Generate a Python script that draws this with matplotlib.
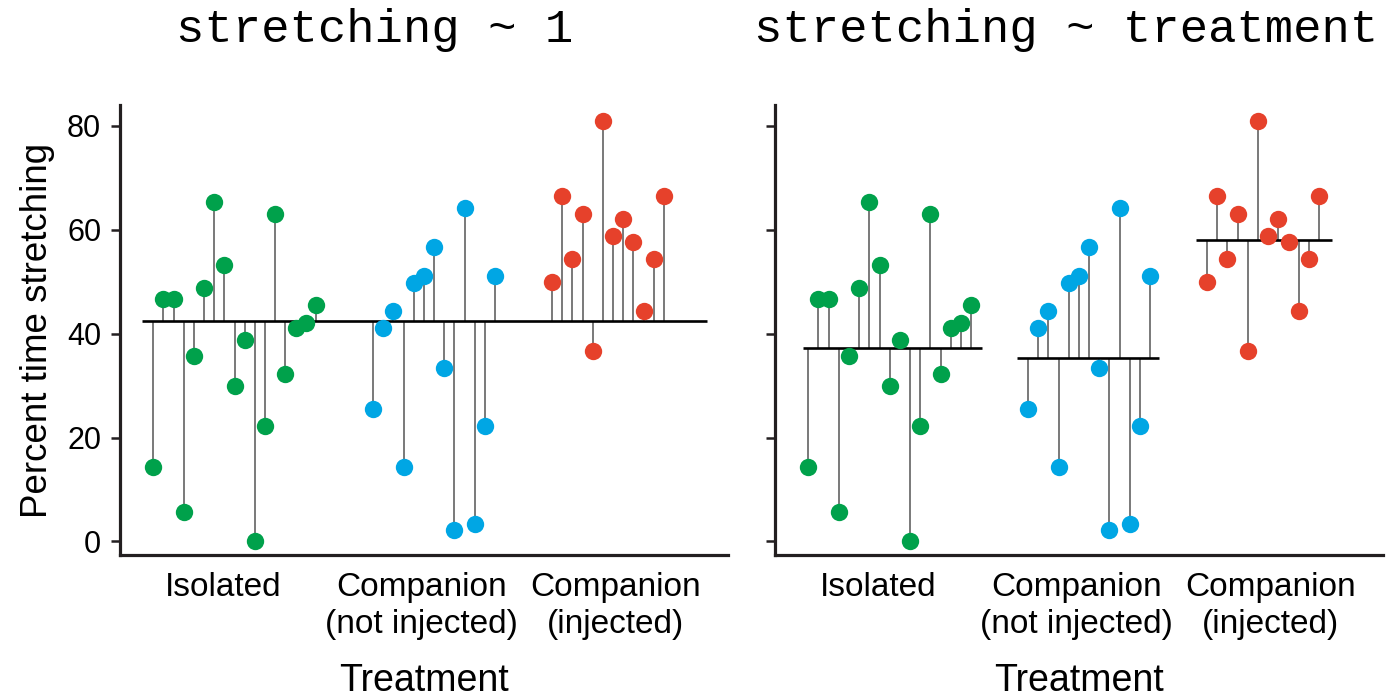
import numpy as np
import matplotlib.pyplot as plt

plt.rcParams['font.family'] = ['Liberation Sans', 'DejaVu Sans']

# percent of time stretching, one value per animal, in recording order
isolated = [14.4, 46.6, 46.6, 5.6, 35.6, 48.8, 65.4, 53.2, 30.0, 38.8,
            0.0, 22.3, 63.1, 32.2, 41.1, 42.1, 45.5]
not_injected = [25.5, 41.1, 44.3, 14.4, 49.8, 51.0, 56.7, 33.4, 2.2,
                64.2, 3.4, 22.3, 51.0]
injected = [49.9, 66.5, 54.3, 63.1, 36.7, 80.9, 58.8, 62.1, 57.7, 44.4,
            54.3, 66.5]

groups = [isolated, not_injected, injected]
group_labels = ['Isolated', 'Companion\n(not injected)', 'Companion\n(injected)']
colors = ['#00a14b', '#00a6e4', '#e6412b']

# horizontal layout: one unit per animal, a gap between treatments
gap = 5.6
starts = [0.0]
for g in groups[:-1]:
    starts.append(starts[-1] + len(g) - 1 + gap)
xs = [s + np.arange(len(g)) for s, g in zip(starts, groups)]
label_pos = [6.9, 26.4, 45.4]
mean_pads = [(0.5, 1.1), (1.1, 0.9), (1.1, 1.3)]

all_y = np.concatenate(groups)
grand_mean = all_y.mean()

fig = plt.figure(figsize=(13.87, 6.96), dpi=100)
ax1 = fig.add_axes([0.0865, 0.2026, 0.4384, 0.6466])
ax2 = fig.add_axes([0.5588, 0.2026, 0.4384, 0.6466])

spine_col = '#231f20'
stem_col = '#555555'


def style(ax, show_labels):
    ax.set_xlim(-3.27, 56.5)
    ax.set_ylim(-2.6, 84.0)
    for side in ['top', 'right']:
        ax.spines[side].set_visible(False)
    for side in ['left', 'bottom']:
        ax.spines[side].set_linewidth(2.3)
        ax.spines[side].set_color(spine_col)
    ax.set_yticks([0, 20, 40, 60, 80])
    ax.tick_params(axis='y', length=6.5, width=1.8, color=spine_col,
                   labelsize=22, pad=7, labelleft=show_labels)
    ax.set_xticks(label_pos)
    ax.set_xticklabels(group_labels, fontsize=24, linespacing=1.28)
    ax.tick_params(axis='x', length=0, pad=12)
    ax.set_xlabel('Treatment', fontsize=27, labelpad=16)


# left: everything against the grand mean
x_all = np.concatenate(xs)
ax1.vlines(x_all, grand_mean, all_y, color=stem_col, lw=1.1, zorder=1)
ax1.hlines(grand_mean, x_all.min() - 1.14, x_all.max() + 4.2,
           color='black', lw=1.9, zorder=2)
for x, g, c in zip(xs, groups, colors):
    ax1.plot(x, g, 'o', ms=12.5, color=c, mec='none', zorder=3)
style(ax1, True)
ax1.set_ylabel('Percent time stretching', fontsize=26.5, labelpad=9)

# right: each treatment against its own mean
for x, g, c, (lo, hi) in zip(xs, groups, colors, mean_pads):
    m = np.mean(g)
    ax2.vlines(x, m, g, color=stem_col, lw=1.1, zorder=1)
    ax2.hlines(m, x.min() - lo, x.max() + hi, color='black', lw=1.9, zorder=2)
    ax2.plot(x, g, 'o', ms=12.5, color=c, mec='none', zorder=3)
style(ax2, False)

fig.text(375 / 1387, 0.9397, 'stretching ~ 1', family='Liberation Mono',
         fontsize=34, ha='center', va='baseline')
fig.text(1066 / 1387, 0.9397, 'stretching ~ treatment', family='Liberation Mono',
         fontsize=34, ha='center', va='baseline')

fig.savefig('out.png', dpi=100)
